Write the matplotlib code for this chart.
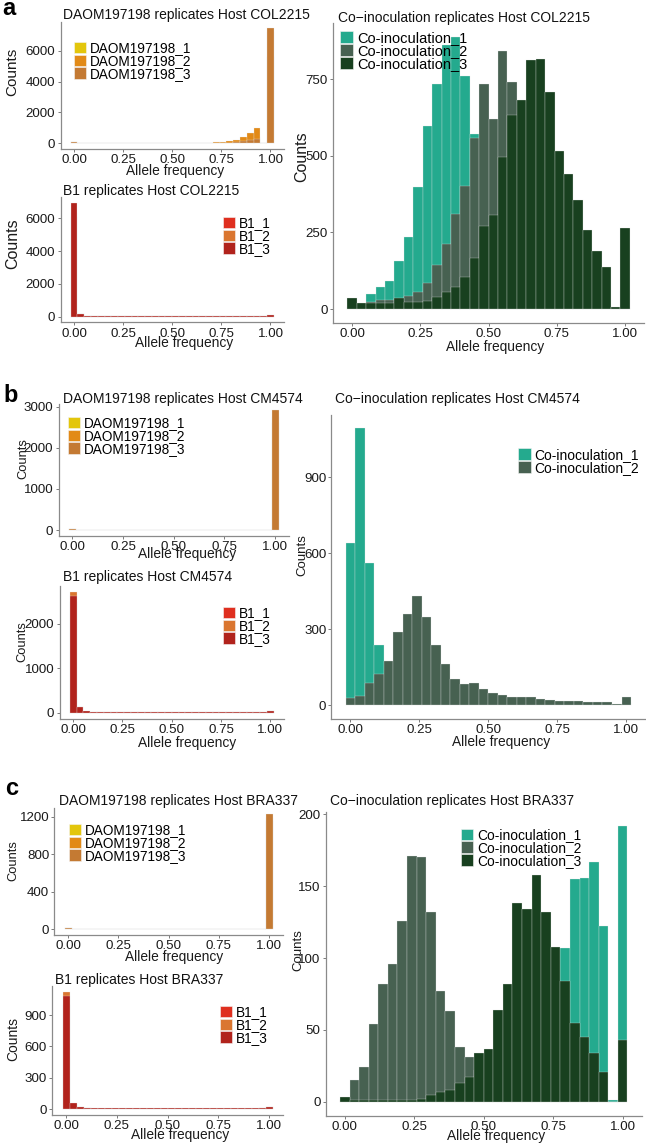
import numpy as np
import matplotlib
matplotlib.use("Agg")
import matplotlib.pyplot as plt
from matplotlib.patches import Patch

plt.rcParams["font.family"] = ["Liberation Sans", "DejaVu Sans"]

W, H = 646, 1144

# 30 histogram bins over allele frequency 0..1
bin_centers = np.arange(30) / 29
x_ticks = [0, 0.25, 0.5, 0.75, 1.0]
x_tick_labels = ["0.00", "0.25", "0.50", "0.75", "1.00"]

daom_labels = ["DAOM197198_1", "DAOM197198_2", "DAOM197198_3"]
b1_labels = ["B1_1", "B1_2", "B1_3"]
coin_labels = ["Co-inoculation_1", "Co-inoculation_2", "Co-inoculation_3"]

daom_colors = ["#e3c60c", "#e28a17", "#c47a33"]
b1_colors = ["#df2f1f", "#da7630", "#b1231c"]
coin_colors = ["#24aa8e", "#476151", "#18401f"]

# ---- host COL2215 ----
daom_col_1 = [50, 12, 10, 9, 8, 8, 8, 8, 8, 8, 8, 8, 8, 8, 9, 9, 10, 10, 12, 14, 18, 25, 35, 60, 100, 170, 280, 400, 20, 7200]
daom_col_2 = [100, 20, 15, 12, 12, 12, 12, 12, 12, 12, 12, 12, 12, 12, 14, 14, 15, 18, 22, 28, 38, 50, 65, 130, 215, 390, 690, 975, 30, 5600]
daom_col_3 = [60, 12, 8, 8, 6, 6, 6, 6, 6, 6, 6, 6, 6, 6, 8, 8, 8, 10, 10, 12, 15, 20, 30, 45, 70, 120, 200, 300, 15, 7500]

b1_col_1 = [6300, 150, 50, 25, 20, 18, 16, 15, 15, 15, 15, 15, 15, 15, 15, 15, 15, 15, 15, 15, 15, 15, 15, 15, 15, 15, 15, 15, 20, 80]
b1_col_2 = [6100, 140, 45, 22, 18, 16, 15, 15, 15, 15, 15, 15, 15, 15, 15, 15, 15, 15, 15, 15, 15, 15, 15, 15, 15, 15, 15, 15, 18, 70]
b1_col_3 = [6950, 165, 60, 30, 25, 22, 20, 20, 20, 20, 20, 20, 20, 20, 20, 20, 20, 20, 20, 20, 20, 20, 20, 20, 20, 20, 20, 20, 25, 85]

co_col_1 = [5, 10, 48, 72, 90, 158, 234, 399, 597, 734, 861, 888, 760, 571, 380, 230, 130, 70, 35, 18, 10, 5, 3, 2, 2, 1, 1, 1, 1, 4]
co_col_2 = [5, 10, 24, 31, 31, 30, 44, 57, 84, 144, 211, 310, 403, 557, 733, 619, 843, 742, 560, 420, 300, 200, 130, 80, 50, 30, 15, 10, 3, 60]
co_col_3 = [37, 18, 18, 20, 18, 37, 22, 24, 27, 40, 57, 73, 106, 168, 272, 307, 497, 633, 682, 813, 815, 709, 516, 440, 356, 258, 190, 138, 8, 263]

# ---- host CM4574 ----
daom_cm_1 = [15, 5, 4, 3, 3, 3, 3, 3, 3, 3, 3, 3, 3, 3, 3, 3, 3, 3, 3, 3, 3, 3, 3, 3, 3, 3, 4, 5, 8, 2600]
daom_cm_2 = [20, 6, 4, 4, 4, 4, 4, 4, 4, 4, 4, 4, 4, 4, 4, 4, 4, 4, 4, 4, 4, 4, 4, 4, 4, 4, 5, 6, 10, 2750]
daom_cm_3 = [18, 5, 4, 3, 3, 3, 3, 3, 3, 3, 3, 3, 3, 3, 3, 3, 3, 3, 3, 3, 3, 3, 3, 3, 3, 3, 4, 5, 8, 2910]

b1_cm_1 = [2500, 120, 25, 12, 10, 10, 9, 9, 9, 9, 9, 9, 9, 9, 9, 9, 9, 9, 9, 9, 9, 9, 9, 9, 9, 9, 9, 9, 10, 35]
b1_cm_2 = [2720, 130, 25, 12, 10, 10, 9, 9, 9, 9, 9, 9, 9, 9, 9, 9, 9, 9, 9, 9, 9, 9, 9, 9, 9, 9, 9, 9, 10, 38]
b1_cm_3 = [2620, 135, 28, 14, 12, 11, 10, 10, 10, 10, 10, 10, 10, 10, 10, 10, 10, 10, 10, 10, 10, 10, 10, 10, 10, 10, 10, 10, 12, 40]

co_cm_1 = [642, 1093, 563, 238, 60, 20, 10, 5, 3, 2, 2, 2, 2, 2, 2, 2, 2, 2, 2, 2, 2, 2, 2, 2, 2, 2, 2, 2, 2, 10]
co_cm_2 = [28, 38, 89, 122, 175, 291, 359, 432, 350, 236, 162, 103, 83, 87, 63, 47, 41, 34, 32, 34, 24, 20, 18, 16, 15, 14, 13, 12, 5, 34]

# ---- host BRA337 ----
daom_bra_1 = [8, 3, 2, 2, 2, 2, 2, 2, 2, 2, 2, 2, 2, 2, 2, 2, 2, 2, 2, 2, 2, 2, 2, 2, 2, 2, 2, 3, 4, 1150]
daom_bra_2 = [10, 4, 3, 3, 3, 3, 3, 3, 3, 3, 3, 3, 3, 3, 3, 3, 3, 3, 3, 3, 3, 3, 3, 3, 3, 3, 3, 4, 5, 1180]
daom_bra_3 = [9, 3, 2, 2, 2, 2, 2, 2, 2, 2, 2, 2, 2, 2, 2, 2, 2, 2, 2, 2, 2, 2, 2, 2, 2, 2, 2, 3, 4, 1230]

b1_bra_1 = [1000, 50, 20, 8, 6, 6, 6, 6, 6, 6, 6, 6, 6, 6, 6, 6, 6, 6, 6, 6, 6, 6, 6, 6, 6, 6, 6, 6, 8, 20]
b1_bra_2 = [1124, 52, 20, 8, 6, 6, 6, 6, 6, 6, 6, 6, 6, 6, 6, 6, 6, 6, 6, 6, 6, 6, 6, 6, 6, 6, 6, 6, 8, 22]
b1_bra_3 = [1082, 54, 22, 9, 7, 7, 7, 7, 7, 7, 7, 7, 7, 7, 7, 7, 7, 7, 7, 7, 7, 7, 7, 7, 7, 7, 7, 7, 9, 22]

co_bra_1 = [1, 1, 1, 1, 1, 1, 1, 1, 1, 1, 1, 1, 1, 1, 1, 2, 2, 3, 4, 6, 12, 20, 60, 107, 155, 156, 167, 122, 1, 192]
co_bra_2 = [1, 15, 24, 54, 82, 96, 126, 171, 170, 132, 77, 63, 38, 31, 22, 15, 10, 6, 4, 3, 2, 1, 1, 1, 0, 0, 0, 0, 0, 0]
co_bra_3 = [3, 1, 1, 1, 1, 1, 1, 1, 2, 5, 7, 8, 13, 17, 34, 37, 64, 82, 138, 134, 158, 132, 108, 84, 55, 45, 34, 21, 0, 43]


def fx(x):
    return x / W


def fy(y):
    return 1 - y / H


def px_axes(fig, box):
    left, top, right, bottom = box
    return fig.add_axes([fx(left), fy(bottom), (right - left) / W, (bottom - top) / H])


def draw_panel(fig, p):
    ax = px_axes(fig, p["box"])
    left, top, right, bottom = p["box"]
    width = 1 / 29
    for counts, lab, col in zip(p["series"], p["labels"], p["colors"]):
        ax.bar(bin_centers, counts, width=width, color=col, edgecolor="#e6e6e6",
               linewidth=0.2, label=lab)

    lo = bin_centers[0] - width / 2
    hi = bin_centers[-1] + width / 2
    pad = 0.05 * (hi - lo)
    ax.set_xlim(lo - pad, hi + pad)
    ymax = max(max(s) for s in p["series"])
    ax.set_ylim(-0.05 * ymax, 1.05 * ymax)

    ax.set_xticks(x_ticks)
    ax.set_xticklabels(x_tick_labels)
    ax.set_yticks(p["yticks"])
    ax.tick_params(length=2.2, width=0.7, color="#7a7a7a", labelsize=9.6,
                   pad=1.5, labelcolor="#1a1a1a")
    for side in ["top", "right"]:
        ax.spines[side].set_visible(False)
    for side in ["left", "bottom"]:
        ax.spines[side].set_color("#8a8a8a")
        ax.spines[side].set_linewidth(0.9)

    ax.set_ylabel("Counts", fontsize=p["ylabel_size"], color="#1a1a1a")
    ax.yaxis.label.set_va("center")
    yx, yy = p["ylabel_xy"]
    ax.yaxis.set_label_coords((yx - left) / (right - left), (bottom - yy) / (bottom - top))
    ax.set_xlabel("Allele frequency", fontsize=9.9, color="#1a1a1a")
    ax.xaxis.label.set_va("center")
    xx, xy = p["xlabel_xy"]
    ax.xaxis.set_label_coords((xx - left) / (right - left), (bottom - xy) / (bottom - top))

    tx, ty = p["title_xy"]
    fig.text(fx(tx), fy(ty), p["title"], fontsize=10, va="center", ha="left",
             color="#111111")

    n = len(p["series"])
    handles = [Patch(facecolor=c, edgecolor="#f4f4f4", linewidth=0.4) for c in p["colors"][:n]]
    lx, ly = p["legend_xy"]
    ax.legend(handles, p["labels"][:n], loc="upper left",
              bbox_to_anchor=(fx(lx), fy(ly)), bbox_transform=fig.transFigure,
              frameon=False, borderpad=0, borderaxespad=0,
              handlelength=0.9, handleheight=0.9, handletextpad=0.3,
              labelspacing=-0.08, fontsize=p["legend_size"])
    return ax


panels = [
    dict(box=(60.5, 22, 284, 149), series=[daom_col_1, daom_col_2, daom_col_3],
         labels=daom_labels, colors=daom_colors, yticks=[0, 2000, 4000, 6000],
         title="DAOM197198 replicates Host COL2215", title_xy=(63, 15),
         ylabel_xy=(12, 72), ylabel_size=11, xlabel_xy=(175, 171.5),
         legend_xy=(74, 41), legend_size=9.8),
    dict(box=(60.5, 197, 284, 322.4), series=[b1_col_1, b1_col_2, b1_col_3],
         labels=b1_labels, colors=b1_colors, yticks=[0, 2000, 4000, 6000],
         title="B1 replicates Host COL2215", title_xy=(63, 191.5),
         ylabel_xy=(13, 244), ylabel_size=11.5, xlabel_xy=(184, 343),
         legend_xy=(223, 216), legend_size=9.8),
    dict(box=(333.2, 23.4, 644, 322.6), series=[co_col_1, co_col_2, co_col_3],
         labels=coin_labels, colors=coin_colors, yticks=[0, 250, 500, 750],
         title="Co\u2212inoculation replicates Host COL2215", title_xy=(338, 18.3),
         ylabel_xy=(302, 157), ylabel_size=11.5, xlabel_xy=(495, 346.5),
         legend_xy=(340, 31), legend_size=10.5),
    dict(box=(58.5, 404.4, 289, 536), series=[daom_cm_1, daom_cm_2, daom_cm_3],
         labels=daom_labels, colors=daom_colors, yticks=[0, 1000, 2000, 3000],
         title="DAOM197198 replicates Host CM4574", title_xy=(63, 399),
         ylabel_xy=(23, 459), ylabel_size=9.3, xlabel_xy=(187, 554),
         legend_xy=(68, 416), legend_size=9.8),
    dict(box=(59.5, 586, 284, 718.7), series=[b1_cm_1, b1_cm_2, b1_cm_3],
         labels=b1_labels, colors=b1_colors, yticks=[0, 1000, 2000],
         title="B1 replicates Host CM4574", title_xy=(63, 576.5),
         ylabel_xy=(22, 642), ylabel_size=9.3, xlabel_xy=(187, 743),
         legend_xy=(223, 606), legend_size=9.8),
    dict(box=(331.4, 414.6, 645.3, 719.1), series=[co_cm_1, co_cm_2],
         labels=coin_labels, colors=coin_colors, yticks=[0, 300, 600, 900],
         title="Co\u2212inoculation replicates Host CM4574", title_xy=(335, 399),
         ylabel_xy=(302, 555), ylabel_size=9.5, xlabel_xy=(501, 742),
         legend_xy=(518, 448), legend_size=10),
    dict(box=(54.3, 808, 283, 935), series=[daom_bra_1, daom_bra_2, daom_bra_3],
         labels=daom_labels, colors=daom_colors, yticks=[0, 400, 800, 1200],
         title="DAOM197198 replicates Host BRA337", title_xy=(59, 801.5),
         ylabel_xy=(13, 861), ylabel_size=9.3, xlabel_xy=(174, 957),
         legend_xy=(69, 823), legend_size=9.8),
    dict(box=(52, 985.8, 283, 1115), series=[b1_bra_1, b1_bra_2, b1_bra_3],
         labels=b1_labels, colors=b1_colors, yticks=[0, 300, 600, 900],
         title="B1 replicates Host BRA337", title_xy=(55, 980),
         ylabel_xy=(13, 1039), ylabel_size=10, xlabel_xy=(180, 1135.5),
         legend_xy=(220, 1005), legend_size=9.8),
    dict(box=(325.6, 812, 641.8, 1115.5), series=[co_bra_1, co_bra_2, co_bra_3],
         labels=coin_labels, colors=coin_colors, yticks=[0, 50, 100, 150, 200],
         title="Co\u2212inoculation replicates Host BRA337", title_xy=(330, 801.5),
         ylabel_xy=(298, 950), ylabel_size=9.5, xlabel_xy=(496, 1136),
         legend_xy=(461, 828), legend_size=9.9),
]

fig = plt.figure(figsize=(W / 100, H / 100), dpi=100)
for p in panels:
    draw_panel(fig, p)

for letter, (lx, ly) in zip(["a", "b", "c"], [(2, 15), (3, 402), (5, 795)]):
    fig.text(fx(lx), fy(ly), letter, fontsize=17, fontweight="bold", va="baseline",
             ha="left", color="black")

fig.savefig("out.png", dpi=100)
